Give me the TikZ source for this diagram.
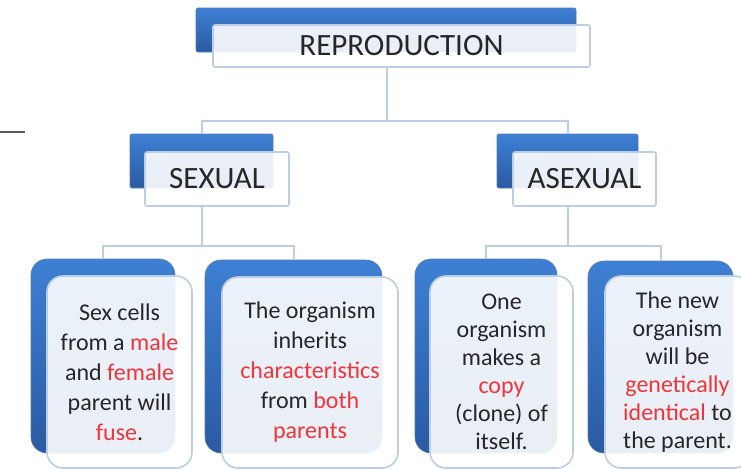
\documentclass[tikz,border=0pt]{standalone}
\usepackage{fontspec}
\setmainfont{Carlito}
\definecolor{blueA}{HTML}{3E80D4}
\definecolor{blueB}{HTML}{2A5AA2}
\definecolor{edge}{HTML}{BACEE6}
\definecolor{redtxt}{HTML}{F0353A}
\definecolor{txt}{HTML}{262626}
\newcommand{\rd}[1]{\textcolor{redtxt}{#1}}
\tikzset{
  back/.style={inner sep=0pt,top color=blueA,bottom color=blueB,draw=blueB!80,line width=.6pt},
  front/.style={inner sep=0pt,fill=white,fill opacity=.9,text opacity=1,draw=edge,line width=1.6pt,text=txt},
  head/.style={font={\fontsize{31}{33}\selectfont}},
  card/.style={align=center,rounded corners=16pt},
  conn/.style={draw=edge,line width=2pt}
}
\begin{document}
\begin{tikzpicture}[x=1pt,y=-1pt,line width=.35pt]
\fill[white] (0,0) rectangle (741,469);
\clip (0,0) rectangle (741,469);
\draw[black!65,line width=2pt] (0,132)--(25,132);
% top level
\node[back,rounded corners=2pt,minimum width=380pt,minimum height=44pt] (reproback) at (386,30) {};
\node[front,head,rounded corners=2pt,minimum width=377pt,minimum height=42pt] (repro) at (401.5,46) {REPRODUCTION};
% second level
\node[back,rounded corners=2pt,minimum width=143pt,minimum height=54pt] (sexback) at (201.5,161) {};
\node[front,head,rounded corners=2pt,minimum width=144pt,minimum height=54pt] (sex) at (217,179) {SEXUAL};
\node[back,rounded corners=2pt,minimum width=141pt,minimum height=54pt] (asexback) at (567.5,161) {};
\node[front,head,rounded corners=2pt,minimum width=143pt,minimum height=54pt] (asex) at (584.5,179) {ASEXUAL};
% cards
\node[back,card,minimum width=144pt,minimum height=194pt] (cardAback) at (103,356) {};
\node[front,card,minimum width=145pt,minimum height=192pt,font={\fontsize{24}{30}\selectfont}] (cardA) at (119.5,372)
  {Sex cells\\from a \rd{male}\\and \rd{female}\\parent will\\\rd{fuse}.};
\node[back,card,minimum width=177pt,minimum height=193pt] (cardBback) at (293.5,356.5) {};
\node[front,card,minimum width=176pt,minimum height=191pt,font={\fontsize{24}{30}\selectfont}] (cardB) at (310,372.5)
  {The organism\\inherits\\\rd{characteristics}\\from \rd{both}\\\rd{parents}};
\node[back,card,minimum width=142pt,minimum height=194pt] (cardCback) at (486,356) {};
\node[front,card,minimum width=143pt,minimum height=192pt,font={\fontsize{24}{28}\selectfont}] (cardC) at (501.5,372)
  {One\\organism\\makes a\\\rd{copy}\\(clone) of\\itself.};
\node[back,card,minimum width=145pt,minimum height=192pt] (cardDback) at (660.5,357) {};
\node[front,card,minimum width=145pt,minimum height=192pt,font={\fontsize{24}{28}\selectfont}] (cardD) at (677.5,372)
  {The new\\organism\\will be\\\rd{genetically}\\\rd{identical} to\\the parent.};
% connectors
\coordinate (j0) at (387,121);
\coordinate (j1) at (201.5,246);
\coordinate (j2) at (567.5,246);
\draw[conn] (repro.south -| j0) -- (j0);
\draw[conn] (sexback.north) |- (j0) -| (asexback.north);
\draw[conn] (sex.south -| j1) -- (j1);
\draw[conn] (cardAback.north) |- (j1) -| (cardBback.north);
\draw[conn] (asex.south -| j2) -- (j2);
\draw[conn] (cardCback.north) |- (j2) -| (cardDback.north);
\end{tikzpicture}
\end{document}
